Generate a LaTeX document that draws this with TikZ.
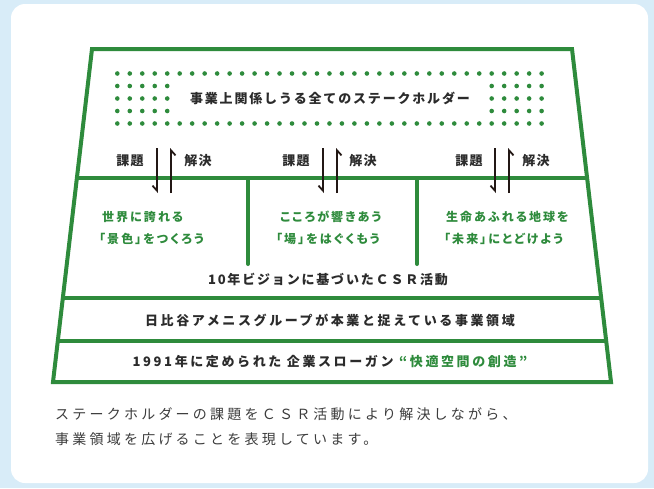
\documentclass[tikz,border=0pt]{standalone}
\usepackage{fontspec}
\setmainfont{Noto Sans CJK JP}
\usetikzlibrary{arrows.meta}
\definecolor{bgblue}{HTML}{D8ECF8}
\definecolor{grn}{HTML}{2E8B3C}
\definecolor{ink}{HTML}{2B2B2B}
\definecolor{cap}{HTML}{3C3C3C}
\definecolor{arr}{HTML}{231815}
\tikzset{
  edge/.style={grn, line width=4pt, line join=miter},
  dotfill/.style={fill=grn},
  lbl/.style={text=ink, inner sep=0pt, font=\fontsize{13}{13}\selectfont\bfseries\addfontfeatures{LetterSpace=14}},
  widelbl/.style={text=ink, inner sep=0pt, font=\fontsize{13}{13}\selectfont\bfseries\addfontfeatures{LetterSpace=20}},
  rowlbl/.style={text=ink, inner sep=0pt, font=\fontsize{13}{13}\selectfont\bfseries\addfontfeatures{LetterSpace=10}},
  glbl/.style={text=grn, inner sep=0pt, anchor=west, font=\fontsize{12}{12}\selectfont\bfseries\addfontfeatures{RawFeature=+palt,LetterSpace=17}},
  caplbl/.style={text=cap, inner sep=0pt, anchor=west, font=\fontsize{14}{14}\selectfont\addfontfeatures{LetterSpace=23}},
  harp/.style={arr, line width=1.8pt, -{Straight Barb[right, length=5pt, width=9pt, line width=1.8pt]}},
}
\begin{document}
\begin{tikzpicture}[x=1pt,y=-1pt]
\fill[bgblue] (0,0) rectangle (654,488);
\useasboundingbox (0,0) rectangle (654,488);
\fill[white, rounded corners=14pt] (11,4) rectangle (648,483);

% trapezoid frame
\draw[edge] (92,49) -- (572,49) -- (611,382) -- (53,382) -- cycle;
\draw[edge] (76.9,178) -- (587.1,178);
\draw[edge] (62.8,298) -- (601.2,298);
\draw[edge] (57.8,341) -- (606.2,341);
\draw[edge, line cap=round] (248,178) -- (248,264);
\draw[edge, line cap=round] (417,178) -- (417,264);

% dots
\foreach \i in {0,...,34} {
  \fill[dotfill] (117.3+12.48*\i,73.5) circle (2.3pt);
  \fill[dotfill] (117.3+12.48*\i,123.5) circle (2.3pt);
}
\foreach \r in {86,98.5,111} {
  \foreach \i in {0,...,4,30,31,32,33,34} {
    \fill[dotfill] (117.3+12.48*\i,\r) circle (2.3pt);
  }
}
\node[lbl] (stake) at (330,98.5) {事業上関係しうる全てのステークホルダー};

% issue / solution rows
\node[rowlbl] (k1) at (130,161) {課題};
\node[rowlbl] (s1) at (198,161) {解決};
\node[rowlbl] (k2) at (296,161) {課題};
\node[rowlbl] (s2) at (363,161) {解決};
\node[rowlbl] (k3) at (469,161) {課題};
\node[rowlbl] (s3) at (536,161) {解決};

\coordinate (d1t) at (157,148); \coordinate (d1b) at (157,193);
\coordinate (u1t) at (171,148); \coordinate (u1b) at (171,193);
\coordinate (d2t) at (323,148); \coordinate (d2b) at (323,193);
\coordinate (u2t) at (337,148); \coordinate (u2b) at (337,193);
\coordinate (d3t) at (495,148); \coordinate (d3b) at (495,193);
\coordinate (u3t) at (509,148); \coordinate (u3b) at (509,193);
\draw[harp] (d1t) -- (d1b);
\draw[harp] (u1b) -- (u1t);
\draw[harp] (d2t) -- (d2b);
\draw[harp] (u2b) -- (u2t);
\draw[harp] (d3t) -- (d3b);
\draw[harp] (u3b) -- (u3t);

% green texts
\node[glbl] (g1a) at (102,217) {世界に誇れる};
\node[glbl] (g1b) at (99,239) {「景色」をつくろう};
\node[glbl] (g2a) at (280,217) {こころが響きあう};
\node[glbl] (g2b) at (276,239) {「場」をはぐくもう};
\node[glbl] (g3a) at (446,217) {生命あふれる地球を};
\node[glbl] (g3b) at (444,239) {「未来」にとどけよう};

\node[lbl] (csr) at (328,279) {10年ビジョンに基づいたＣＳＲ活動};
\node[widelbl] (biz) at (330,320) {日比谷アメニスグループが本業と捉えている事業領域};
\node[widelbl] (slogan) at (330,361.5) {1991年に定められた 企業スローガン \textcolor{grn}{“快適空間の創造”}};

% caption
\node[caplbl] (cap1) at (55,414) {ステークホルダーの課題をＣＳＲ活動により解決しながら、};
\node[caplbl] (cap2) at (55,439) {事業領域を広げることを表現しています。};
\end{tikzpicture}
\end{document}
